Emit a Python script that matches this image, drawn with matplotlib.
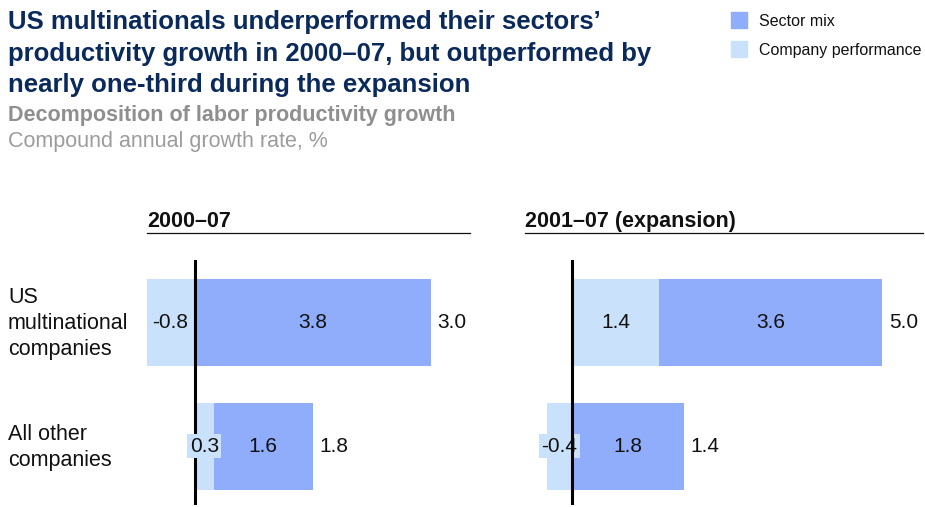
import matplotlib
matplotlib.use("Agg")
import matplotlib.pyplot as plt
from matplotlib.patches import Rectangle
from matplotlib.lines import Line2D
from matplotlib.transforms import blended_transform_factory

plt.rcParams['font.family'] = ['Liberation Sans', 'DejaVu Sans']

# ---- data -------------------------------------------------------------
categories = ["US\nmultinational\ncompanies", "All other\ncompanies"]
periods = ["2000–07", "2001–07 (expansion)"]

company_2000_07 = [-0.8, 0.3]
sector_2000_07 = [3.8, 1.6]
total_2000_07 = [3.0, 1.8]

company_2001_07 = [1.4, -0.4]
sector_2001_07 = [3.6, 1.8]
total_2001_07 = [5.0, 1.4]

series_labels = ["Sector mix", "Company performance"]

# ---- style ------------------------------------------------------------
SECTOR = "#90adfb"
COMPANY = "#c9e1fa"
NAVY = "#0b2a5c"
GREY_BOLD = "#8f8f8f"
GREY = "#9c9c9c"
INK = "#111111"

W, H = 925, 507
fig = plt.figure(figsize=(W / 100, H / 100), dpi=100)


def fx(x):
    return x / W


def fy(y):
    return 1 - y / H


# ---- titles -----------------------------------------------------------
title_lines = [
    "US multinationals underperformed their sectors’",
    "productivity growth in 2000–07, but outperformed by",
    "nearly one-third during the expansion",
]
for i, line in enumerate(title_lines):
    fig.text(fx(8), fy(29 + 31.5 * i), line, fontsize=18.5, weight="bold",
             color=NAVY, va="baseline", ha="left")
fig.text(fx(8), fy(121), "Decomposition of labor productivity growth",
         fontsize=15.5, weight="bold", color=GREY_BOLD, va="baseline")
fig.text(fx(8), fy(147), "Compound annual growth rate, %",
         fontsize=15.5, color=GREY, va="baseline")

# ---- legend -----------------------------------------------------------
for i, (lab, col) in enumerate(zip(series_labels, [SECTOR, COMPANY])):
    top = 12 + 29 * i
    fig.patches.append(Rectangle((fx(731), fy(top + 16)), 16 / W, 16 / H,
                                 transform=fig.transFigure, color=col))
    fig.text(fx(759), fy(top + 10), lab, fontsize=11.5, color=INK,
             va="center", ha="left")

# ---- panels -----------------------------------------------------------
PX_PER_UNIT = 62.0
panels = [
    dict(period=periods[0], company=company_2000_07, sector=sector_2000_07,
         total=total_2000_07, left=147, right=470, zero=195),
    dict(period=periods[1], company=company_2001_07, sector=sector_2001_07,
         total=total_2001_07, left=525, right=923, zero=572),
]

AX_TOP, AX_BOTTOM = 260, 505
ROW0, ROW1 = 322.5, 446.0
row_px = ROW1 - ROW0
bar_h = 87 / row_px

for k, p in enumerate(panels):
    ax = fig.add_axes([fx(p["left"]), fy(AX_BOTTOM),
                       (p["right"] - p["left"]) / W, (AX_BOTTOM - AX_TOP) / H])
    ax.set_xlim(-(p["zero"] - p["left"]) / PX_PER_UNIT,
                (p["right"] - p["zero"]) / PX_PER_UNIT)
    ax.set_ylim(1 + (AX_BOTTOM - ROW1) / row_px, -(ROW0 - AX_TOP) / row_px)
    ax.axis("off")

    # header and rule
    fig.text(fx(p["left"]), fy(227), p["period"], fontsize=15.5,
             weight="bold", color=INK, va="baseline")
    fig.add_artist(Line2D([fx(p["left"]), fx(p["right"])], [fy(233), fy(233)],
                          transform=fig.transFigure, color=INK, lw=0.9))

    ax.axvline(0, color="black", lw=2.2, zorder=3)

    for i in range(len(categories)):
        c, s, t = p["company"][i], p["sector"][i], p["total"][i]
        if c >= 0:
            c_left, s_left = 0, c
            end = c + s
        else:
            c_left, s_left = 0, 0
            end = s
        ax.barh(i, c, left=c_left, height=bar_h, color=COMPANY,
                edgecolor="none", zorder=1)
        ax.barh(i, s, left=s_left, height=bar_h, color=SECTOR,
                edgecolor="none", zorder=1)

        # segment labels
        c_mid = c_left + c / 2
        small = abs(c) < 0.6
        if small:
            ax.text(c_mid, i, f"{c:.1f}", ha="center", va="center",
                    fontsize=15, color=INK, zorder=4 if c > 0 else 2,
                    bbox=dict(boxstyle="square,pad=0.12", fc=COMPANY,
                              ec="none"))
        else:
            ax.text(c_mid, i, f"{c:.1f}", ha="center", va="center",
                    fontsize=15, color=INK, zorder=4)
        ax.text(s_left + s / 2, i, f"{s:.1f}", ha="center", va="center",
                fontsize=15, color=INK, zorder=4)
        # total
        ax.annotate(f"{t:.1f}", xy=(end, i), xytext=(5, 0),
                    textcoords="offset points", ha="left", va="center",
                    fontsize=15, color=INK)

        if k == 0:
            tr = blended_transform_factory(fig.transFigure, ax.transData)
            ax.text(fx(8), i + 0.01, categories[i], transform=tr, ha="left",
                    va="center", fontsize=15.5, color=INK, linespacing=1.31)

fig.savefig("out.png", dpi=100)
